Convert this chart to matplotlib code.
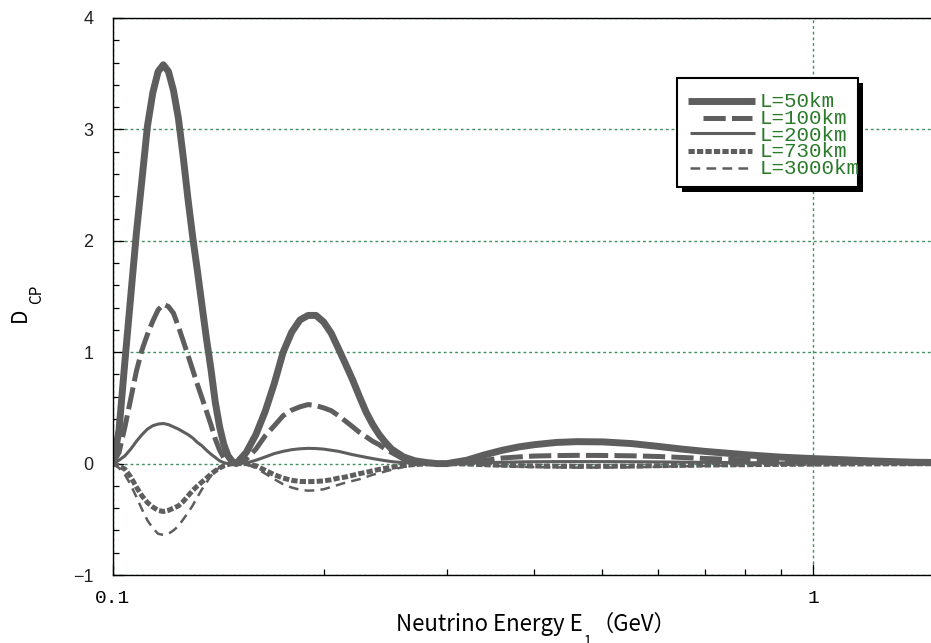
import matplotlib
matplotlib.use('Agg')
import matplotlib.pyplot as plt
from matplotlib.patches import Rectangle
from matplotlib.lines import Line2D
from matplotlib.ticker import MultipleLocator, FixedLocator, NullFormatter

plt.rcParams['lines.scale_dashes'] = False

W, H = 931, 643

# neutrino energy (GeV)
energy = [0.100, 0.102, 0.104, 0.106, 0.108, 0.110, 0.112, 0.114, 0.116, 0.118,
          0.120, 0.122, 0.124, 0.126, 0.128, 0.130, 0.132, 0.134, 0.136, 0.138,
          0.140, 0.142, 0.144, 0.146, 0.148, 0.150,
          0.155, 0.160, 0.165, 0.170, 0.175, 0.180, 0.185, 0.190, 0.195, 0.200,
          0.205, 0.210, 0.215, 0.220, 0.225, 0.230, 0.235, 0.240, 0.245, 0.250,
          0.26, 0.27, 0.28, 0.29, 0.30,
          0.32, 0.34, 0.36, 0.38, 0.40, 0.43, 0.46, 0.50, 0.55, 0.60,
          0.65, 0.70, 0.80, 0.90, 1.0, 1.1, 1.2, 1.3, 1.4, 1.5]

dcp_50 = [0.00, 0.30, 0.92, 1.50, 2.07, 2.55, 3.03, 3.33, 3.52, 3.58,
          3.52, 3.35, 3.10, 2.75, 2.37, 2.03, 1.73, 1.42, 1.12, 0.85,
          0.55, 0.33, 0.17, 0.07, 0.02, 0.00,
          0.10, 0.26, 0.47, 0.72, 1.00, 1.18, 1.29, 1.33, 1.33, 1.27,
          1.17, 1.03, 0.89, 0.75, 0.60, 0.46, 0.35, 0.26, 0.19, 0.13,
          0.06, 0.025, 0.01, 0.0, 0.0,
          0.03, 0.08, 0.12, 0.15, 0.17, 0.19, 0.197, 0.195, 0.18, 0.155,
          0.13, 0.11, 0.08, 0.058, 0.045, 0.035, 0.025, 0.018, 0.012, 0.01]

dcp_100 = [0.00, 0.10, 0.33, 0.58, 0.83, 1.02, 1.16, 1.28, 1.38, 1.43,
           1.41, 1.35, 1.23, 1.10, 0.97, 0.84, 0.71, 0.59, 0.47, 0.35,
           0.22, 0.12, 0.05, 0.02, 0.00, 0.00,
           0.04, 0.13, 0.25, 0.34, 0.43, 0.48, 0.51, 0.53, 0.52, 0.50,
           0.475, 0.43, 0.38, 0.33, 0.28, 0.24, 0.20, 0.17, 0.13, 0.10,
           0.04, 0.015, 0.005, 0.0, 0.0,
           0.01, 0.03, 0.05, 0.06, 0.068, 0.072, 0.074, 0.073, 0.07, 0.064,
           0.055, 0.046, 0.033, 0.024, 0.018, 0.014, 0.01, 0.008, 0.005, 0.004]

dcp_200 = [0.00, 0.03, 0.07, 0.13, 0.20, 0.26, 0.31, 0.34, 0.355, 0.36,
           0.35, 0.33, 0.31, 0.285, 0.26, 0.23, 0.19, 0.16, 0.12, 0.085,
           0.055, 0.025, 0.008, 0.0, 0.0, 0.0,
           0.005, 0.03, 0.06, 0.09, 0.11, 0.125, 0.133, 0.137, 0.135, 0.13,
           0.12, 0.11, 0.095, 0.08, 0.068, 0.056, 0.045, 0.035, 0.026, 0.018,
           0.008, 0.003, 0.0, 0.0, 0.0,
           0.003, 0.008, 0.012, 0.015, 0.017, 0.018, 0.018, 0.018, 0.017, 0.015,
           0.013, 0.011, 0.008, 0.006, 0.005, 0.004, 0.003, 0.002, 0.002, 0.001]

dcp_730 = [0.00, -0.02, -0.05, -0.12, -0.21, -0.29, -0.35, -0.39, -0.42, -0.43,
           -0.42, -0.40, -0.38, -0.34, -0.29, -0.24, -0.20, -0.165, -0.13, -0.095,
           -0.065, -0.04, -0.02, -0.008, 0.0, 0.0,
           0.0, -0.02, -0.06, -0.10, -0.13, -0.15, -0.16, -0.162, -0.16, -0.155,
           -0.145, -0.13, -0.12, -0.105, -0.09, -0.078, -0.065, -0.052, -0.042, -0.033,
           -0.018, -0.008, -0.003, 0.0, 0.0,
           -0.004, -0.01, -0.015, -0.018, -0.021, -0.023, -0.024, -0.024, -0.022, -0.019,
           -0.016, -0.013, -0.01, -0.007, -0.005, -0.004, -0.003, -0.002, -0.0015, -0.001]

dcp_3000 = [0.00, -0.04, -0.10, -0.19, -0.30, -0.41, -0.51, -0.58, -0.63, -0.64,
            -0.63, -0.60, -0.56, -0.50, -0.44, -0.375, -0.30, -0.23, -0.17, -0.11,
            -0.065, -0.035, -0.015, -0.005, 0.0, 0.0,
            -0.005, -0.04, -0.09, -0.14, -0.185, -0.215, -0.235, -0.243, -0.24, -0.23,
            -0.21, -0.19, -0.17, -0.155, -0.14, -0.12, -0.10, -0.085, -0.07, -0.055,
            -0.03, -0.013, -0.005, 0.0, 0.0,
            -0.005, -0.015, -0.022, -0.027, -0.031, -0.034, -0.036, -0.035, -0.033, -0.028,
            -0.024, -0.02, -0.015, -0.011, -0.008, -0.006, -0.005, -0.003, -0.002, -0.002]

labels = ['L=50km', 'L=100km', 'L=200km', 'L=730km', 'L=3000km']

GRAY = '#5e5e5e'
GRID_GREEN = '#3f8f5f'
TEXT_GREEN = '#2a7a2a'

styles = [
    dict(linewidth=5.0, linestyle='-'),
    dict(linewidth=3.6, linestyle=(0, (16, 4.5))),
    dict(linewidth=2.2, linestyle='-'),
    dict(linewidth=3.6, linestyle=(0, (4.5, 1.6))),
    dict(linewidth=1.8, linestyle=(0, (7, 4.5))),
]


def fx(x):
    return x / W


def fy(y):
    return 1 - y / H


fig = plt.figure(figsize=(W / 100, H / 100), dpi=100)
ax = fig.add_axes([fx(113), fy(575), (936.3 - 113) / W, 557 / H])

series = [dcp_50, dcp_100, dcp_200, dcp_730, dcp_3000]
for values, st in zip(series, styles):
    ax.plot(energy, values, color=GRAY, solid_capstyle='butt',
            dash_capstyle='butt', **st)

ax.set_xscale('log')
ax.set_xlim(0.1, 1.5)
ax.set_ylim(-1, 4)

ax.set_xticks([0.1, 1])
ax.set_xticklabels(['0.1', '1'])
ax.xaxis.set_minor_locator(FixedLocator([0.2, 0.3, 0.4, 0.5, 0.6, 0.7, 0.8, 0.9]))
ax.xaxis.set_minor_formatter(NullFormatter())
ax.set_yticks([-1, 0, 1, 2, 3, 4])
ax.yaxis.set_minor_locator(MultipleLocator(0.2))

ax.grid(True, which='major', color=GRID_GREEN, linestyle=(0, (2, 2.1)), linewidth=1.0)
ax.set_axisbelow(True)

ax.tick_params(which='both', direction='in', top=False, right=False, width=0.9)
ax.tick_params(which='major', length=8)
ax.tick_params(which='minor', length=4)
ax.tick_params(axis='x', pad=11)
ax.tick_params(axis='y', pad=14)

for lab in ax.get_xticklabels():
    lab.set_fontfamily('Liberation Mono')
    lab.set_fontsize(14)
for lab in ax.get_yticklabels():
    lab.set_fontfamily('Liberation Sans')
    lab.set_fontsize(13)
    lab.set_color('#222222')

ax.spines['right'].set_visible(False)
for s in ['left', 'top', 'bottom']:
    ax.spines[s].set_linewidth(1.0)

# axis labels
cjk = ['Noto Sans CJK JP', 'DejaVu Sans']
t1 = fig.text(fx(396), fy(631), 'Neutrino Energy E', fontsize=16,
              family=cjk, va='baseline', ha='left')
sub = ax.annotate('1', xy=(1, 0), xycoords=t1, xytext=(1, 1),
                  textcoords='offset points', fontsize=10, family=cjk,
                  ha='left', va='top')
ax.annotate('（GeV）', xy=(1, 0), xycoords=(sub, t1), xytext=(0, 0),
            textcoords='offset points', fontsize=16, family=cjk,
            ha='left', va='bottom')

tD = fig.text(fx(20), fy(315), 'D', fontsize=15, family=cjk,
              rotation=90, ha='center', va='center')
ax.annotate('CP', xy=(1, 1), xycoords=tD, xytext=(-2, 3),
            textcoords='offset points', fontsize=11, family=cjk,
            rotation=90, ha='left', va='bottom')

# legend box with shadow
fig.add_artist(Rectangle((fx(682), fy(192)), (863 - 682) / W, (192 - 83) / H,
                         transform=fig.transFigure, facecolor='black',
                         edgecolor='none', zorder=5))
fig.add_artist(Rectangle((fx(677), fy(187)), (858 - 677) / W, (187 - 78) / H,
                         transform=fig.transFigure, facecolor='white',
                         edgecolor='black', linewidth=1.5, zorder=6))

handle_x = [(688, 755), (703, 752), (690, 755), (688, 752), (690, 752)]
handle_y = [100.7, 117.7, 133.3, 151.0, 168.3]
text_base = [107.3, 124.3, 140.7, 157.3, 174.0]
for label, st, (x0, x1), hy, tb in zip(labels, styles, handle_x, handle_y, text_base):
    fig.add_artist(Line2D([fx(x0), fx(x1)], [fy(hy), fy(hy)],
                          transform=fig.transFigure, color=GRAY,
                          solid_capstyle='butt', dash_capstyle='butt',
                          zorder=7, **st))
    fig.text(fx(760), fy(tb), label, color=TEXT_GREEN, fontsize=15,
             family='Liberation Mono', va='baseline', ha='left', zorder=8)

fig.savefig('out.png', dpi=100)
